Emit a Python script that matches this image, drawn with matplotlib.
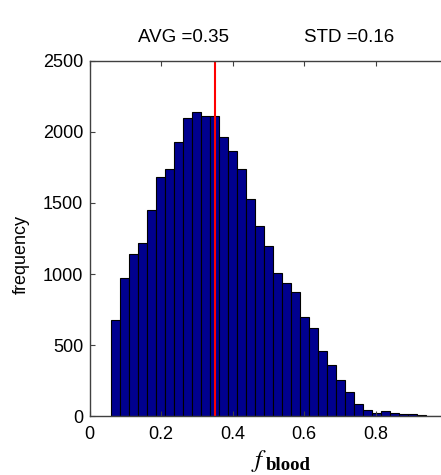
import numpy as np
import matplotlib.pyplot as plt

# histogram of f_blood (counts)
bin_start = 0.059
bin_width = 0.0252
counts = [680, 970, 1140, 1220, 1450, 1680, 1735, 1925, 2095, 2135,
          2110, 2110, 1960, 1865, 1735, 1525, 1340, 1200, 1005, 935,
          875, 700, 620, 457, 364, 259, 170, 91, 49, 26,
          37, 26, 20, 16, 12, 6, 4]
avg = 0.35
std = 0.16
xticks = [0, 0.2, 0.4, 0.6, 0.8]
xlabels = ['0', '0.2', '0.4', '0.6', '0.8']
yticks = [0, 500, 1000, 1500, 2000, 2500]

plt.rcParams['font.family'] = ['Liberation Sans', 'DejaVu Sans']
plt.rcParams['mathtext.fontset'] = 'stix'

fig = plt.figure(figsize=(4.41, 4.75), dpi=100)
ax = fig.add_axes([0.203, 0.1232, 0.8106, 0.7494])

edges = bin_start + bin_width * np.arange(len(counts) + 1)
ax.bar(edges[:-1], counts, width=bin_width, align='edge',
       color=(0, 0, 0.5625), edgecolor='black', linewidth=0.8)
ax.plot([avg, avg], [0, 2500], color='red', linewidth=1.5)

ax.set_xlim(0, 1)
ax.set_ylim(0, 2500)
ax.set_xticks(xticks)
ax.set_xticklabels(xlabels)
ax.set_yticks(yticks)
ax.tick_params(direction='in', top=True, right=True, length=3.5,
               labelsize=13, color='#404040')
ax.tick_params(axis='x', pad=7)
ax.tick_params(axis='y', pad=4.5)
for s in ax.spines.values():
    s.set_color('#404040')
    s.set_linewidth(1)

ax.set_ylabel('frequency', fontsize=13)
ax.yaxis.set_label_coords(-0.166, 0.456)

fig.text(183 / 441, 1 - 38 / 475, 'AVG =%.2f' % avg, ha='center', va='center', fontsize=13.5)
fig.text(349 / 441, 1 - 38 / 475, 'STD =%.2f' % std, ha='center', va='center', fontsize=13.5)

# x label: italic f with bold subscript "blood"
fig.text(251 / 441, 1 - 467 / 475, r'$f$', fontsize=18, ha='left', va='baseline')
fig.text(266 / 441, 1 - 470 / 475, 'blood', family='Liberation Serif', weight='bold',
         fontsize=13.5, ha='left', va='baseline')

fig.savefig('out.png', dpi=100)
